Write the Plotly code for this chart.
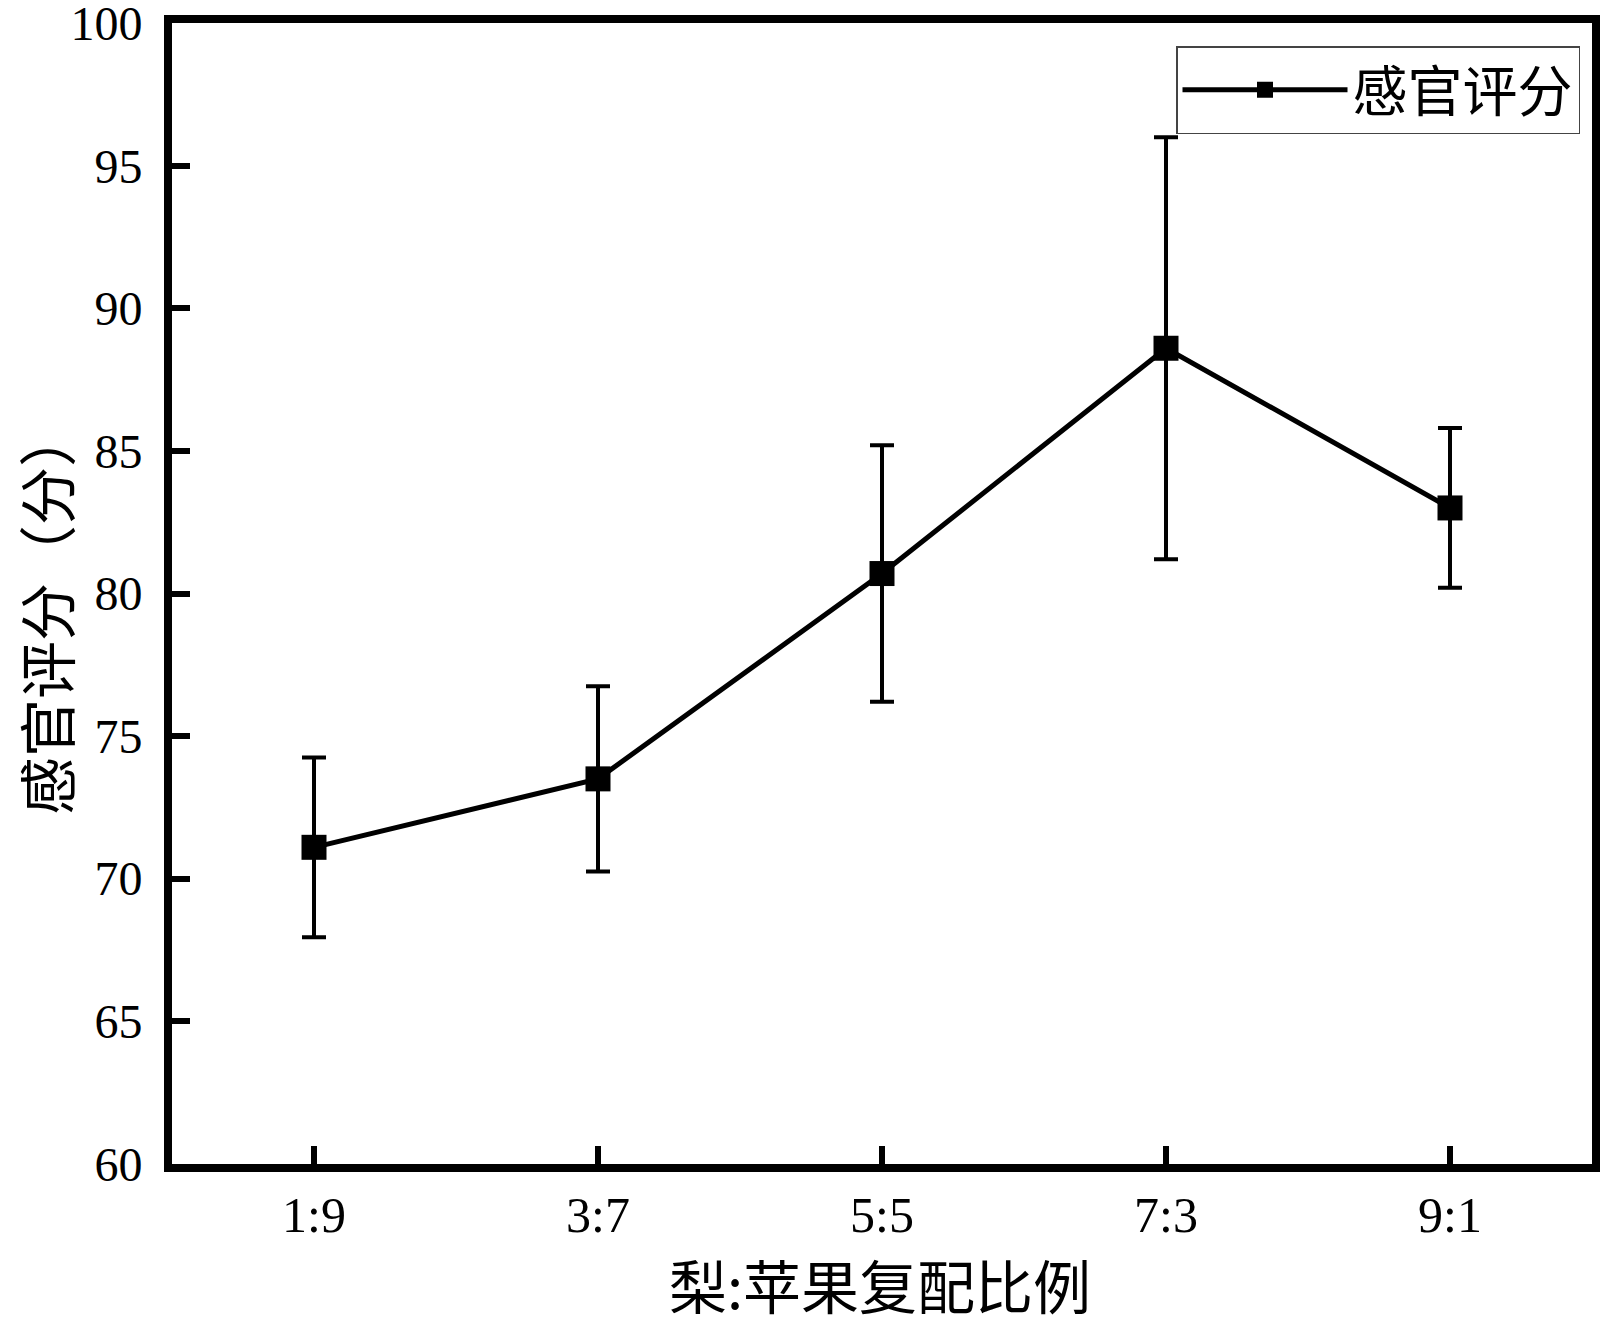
import plotly.graph_objects as go

categories = ["1:9", "3:7", "5:5", "7:3", "9:1"]
scores = [71.1, 73.5, 80.7, 88.6, 83.0]
errors = [3.15, 3.25, 4.5, 7.4, 2.8]
y_ticks = [60, 65, 70, 75, 80, 85, 90, 95, 100]
x_title = "梨:苹果复配比例"
y_title = "感官评分（分）"
series_name = "感官评分"

FONT = "Liberation Serif, Times New Roman, Noto Sans CJK SC, serif"
CJK = "Noto Sans CJK SC"

L, R, T, B = 172, 8, 23, 164
W, H = 1600, 1328
PW, PH = W - L - R, H - T - B

fig = go.Figure()
fig.add_trace(go.Scatter(
    x=list(range(len(categories))),
    y=scores,
    mode="lines+markers",
    name=series_name,
    line=dict(color="black", width=5),
    marker=dict(symbol="square", size=25, color="black"),
    error_y=dict(type="data", array=errors, visible=True,
                 color="black", thickness=4, width=12),
))

fig.update_layout(
    width=W, height=H,
    margin=dict(l=L, r=R, t=T, b=B, pad=0),
    paper_bgcolor="white", plot_bgcolor="white",
    font=dict(family=FONT, color="black", size=50),
    showlegend=True,
    legend=dict(
        x=(1580 - L) / PW, y=1 - (46 - T) / PH, xanchor="right", yanchor="top",
        bgcolor="white", bordercolor="#444", borderwidth=1.5,
        font=dict(size=55, family=CJK),
        itemwidth=165,
    ),
    annotations=[
        dict(text=y_title, xref="paper", yref="paper",
             x=(45 - L) / PW, y=1 - (612 - T) / PH,
             xanchor="center", yanchor="middle", textangle=-90, showarrow=False,
             font=dict(size=58, family=CJK, color="black")),
        dict(text=x_title, xref="paper", yref="paper",
             x=(880 - L) / PW, y=1 - (1284 - T) / PH,
             xanchor="center", yanchor="middle", showarrow=False,
             font=dict(size=58, family=CJK, color="black")),
    ],
)
fig.update_xaxes(
    range=[-0.5, 4.5],
    automargin=False,
    tickmode="array", tickvals=list(range(len(categories))), ticktext=categories,
    ticks="inside", ticklen=18, tickwidth=6, tickcolor="black",
    showline=True, linewidth=8, linecolor="black", mirror=True,
    showgrid=False, zeroline=False,
    tickfont=dict(size=50, family=FONT),
)
fig.update_yaxes(
    range=[59.995, 100.005],
    automargin=False,
    tickmode="array", tickvals=y_ticks,
    ticks="inside", ticklen=18, tickwidth=6, tickcolor="black",
    showline=True, linewidth=8, linecolor="black", mirror=True,
    showgrid=False, zeroline=False,
    tickfont=dict(size=48, family=FONT),
    ticklabelstandoff=12,
    ticklabeloverflow="allow",
)

fig.write_html("out.html", config={"displayModeBar": False},
               post_script="document.body.style.margin='0';")
